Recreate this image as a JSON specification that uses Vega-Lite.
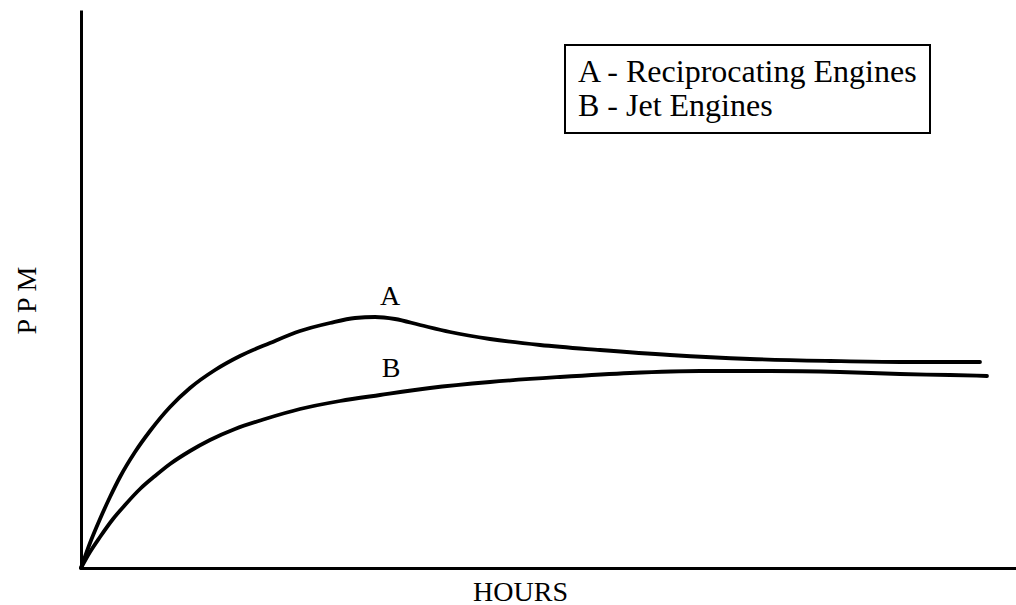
{
  "$schema": "https://vega.github.io/schema/vega-lite/v6.json",
  "width": 935,
  "height": 558,
  "autosize": "none",
  "padding": {"left": 81, "top": 10, "right": 0, "bottom": 37},
  "background": "white",
  "config": {"view": {"stroke": null}, "font": "Liberation Serif"},
  "datasets": {
    "curves": [
      {"engine": "A - Reciprocating Engines", "hours": 0, "ppm": 0},
      {"engine": "A - Reciprocating Engines", "hours": 9, "ppm": 25},
      {"engine": "A - Reciprocating Engines", "hours": 19, "ppm": 49},
      {"engine": "A - Reciprocating Engines", "hours": 29, "ppm": 71},
      {"engine": "A - Reciprocating Engines", "hours": 39, "ppm": 91},
      {"engine": "A - Reciprocating Engines", "hours": 54, "ppm": 116},
      {"engine": "A - Reciprocating Engines", "hours": 69, "ppm": 137},
      {"engine": "A - Reciprocating Engines", "hours": 89, "ppm": 161},
      {"engine": "A - Reciprocating Engines", "hours": 109, "ppm": 180},
      {"engine": "A - Reciprocating Engines", "hours": 134, "ppm": 198},
      {"engine": "A - Reciprocating Engines", "hours": 159, "ppm": 212},
      {"engine": "A - Reciprocating Engines", "hours": 189, "ppm": 225},
      {"engine": "A - Reciprocating Engines", "hours": 219, "ppm": 237},
      {"engine": "A - Reciprocating Engines", "hours": 249, "ppm": 245},
      {"engine": "A - Reciprocating Engines", "hours": 274, "ppm": 250},
      {"engine": "A - Reciprocating Engines", "hours": 294, "ppm": 251},
      {"engine": "A - Reciprocating Engines", "hours": 314, "ppm": 249},
      {"engine": "A - Reciprocating Engines", "hours": 339, "ppm": 243},
      {"engine": "A - Reciprocating Engines", "hours": 369, "ppm": 236},
      {"engine": "A - Reciprocating Engines", "hours": 409, "ppm": 229},
      {"engine": "A - Reciprocating Engines", "hours": 459, "ppm": 223},
      {"engine": "A - Reciprocating Engines", "hours": 519, "ppm": 218},
      {"engine": "A - Reciprocating Engines", "hours": 589, "ppm": 213},
      {"engine": "A - Reciprocating Engines", "hours": 669, "ppm": 209},
      {"engine": "A - Reciprocating Engines", "hours": 749, "ppm": 207},
      {"engine": "A - Reciprocating Engines", "hours": 819, "ppm": 206},
      {"engine": "A - Reciprocating Engines", "hours": 899, "ppm": 206},
      {"engine": "B - Jet Engines", "hours": 0, "ppm": 0},
      {"engine": "B - Jet Engines", "hours": 9, "ppm": 16},
      {"engine": "B - Jet Engines", "hours": 19, "ppm": 31},
      {"engine": "B - Jet Engines", "hours": 32, "ppm": 49},
      {"engine": "B - Jet Engines", "hours": 44, "ppm": 63},
      {"engine": "B - Jet Engines", "hours": 59, "ppm": 79},
      {"engine": "B - Jet Engines", "hours": 74, "ppm": 92},
      {"engine": "B - Jet Engines", "hours": 89, "ppm": 104},
      {"engine": "B - Jet Engines", "hours": 109, "ppm": 117},
      {"engine": "B - Jet Engines", "hours": 129, "ppm": 128},
      {"engine": "B - Jet Engines", "hours": 154, "ppm": 139},
      {"engine": "B - Jet Engines", "hours": 184, "ppm": 149},
      {"engine": "B - Jet Engines", "hours": 219, "ppm": 159},
      {"engine": "B - Jet Engines", "hours": 259, "ppm": 167},
      {"engine": "B - Jet Engines", "hours": 299, "ppm": 173},
      {"engine": "B - Jet Engines", "hours": 349, "ppm": 180},
      {"engine": "B - Jet Engines", "hours": 409, "ppm": 186},
      {"engine": "B - Jet Engines", "hours": 479, "ppm": 191},
      {"engine": "B - Jet Engines", "hours": 549, "ppm": 195},
      {"engine": "B - Jet Engines", "hours": 619, "ppm": 197},
      {"engine": "B - Jet Engines", "hours": 689, "ppm": 197},
      {"engine": "B - Jet Engines", "hours": 759, "ppm": 196},
      {"engine": "B - Jet Engines", "hours": 819, "ppm": 194},
      {"engine": "B - Jet Engines", "hours": 869, "ppm": 193},
      {"engine": "B - Jet Engines", "hours": 906, "ppm": 192}
    ],
    "labels": [
      {"label": "A", "hours": 309, "ppm": 271},
      {"label": "B", "hours": 310, "ppm": 199}
    ]
  },
  "layer": [
    {
      "data": {"name": "curves"},
      "mark": {"type": "line", "interpolate": "monotone", "strokeWidth": 3.8, "strokeCap": "round"},
      "encoding": {
        "x": {
          "field": "hours", "type": "quantitative",
          "scale": {"domain": [0, 935], "nice": false, "zero": false},
          "axis": {
            "title": "HOURS", "titleFont": "Liberation Serif", "titleFontSize": 28, "titleFontWeight": "normal",
            "titleColor": "black", "titlePadding": 10, "titleX": 439, "titleAlign": "center",
            "ticks": false, "labels": false, "grid": false,
            "domainColor": "black", "domainWidth": 3
          }
        },
        "y": {
          "field": "ppm", "type": "quantitative",
          "scale": {"domain": [0, 558], "nice": false, "zero": false},
          "axis": {
            "title": "P P M", "titleFont": "Liberation Serif", "titleFontSize": 28, "titleFontWeight": "normal",
            "titleColor": "black", "titlePadding": 40, "titleY": 290,
            "ticks": false, "labels": false, "grid": false,
            "domainColor": "black", "domainWidth": 3
          }
        },
        "color": {
          "field": "engine", "type": "nominal",
          "scale": {"range": ["black", "black"]},
          "legend": {
            "title": null, "orient": "none", "legendX": 484, "legendY": 35,
            "labelFont": "Liberation Serif", "labelFontSize": 32, "labelColor": "black", "labelLimit": 600,
            "symbolSize": 0, "symbolOpacity": 0, "symbolStrokeWidth": 0, "labelOffset": -30,
            "padding": 11, "rowPadding": 2, "strokeColor": "black",
            "encode": {"legend": {"update": {"strokeWidth": {"value": 2}}}}
          }
        }
      }
    },
    {
      "data": {"name": "labels"},
      "mark": {"type": "text", "font": "Liberation Serif", "fontSize": 28, "color": "black", "baseline": "middle", "align": "center"},
      "encoding": {
        "x": {"field": "hours", "type": "quantitative"},
        "y": {"field": "ppm", "type": "quantitative"},
        "text": {"field": "label"}
      }
    }
  ]
}
